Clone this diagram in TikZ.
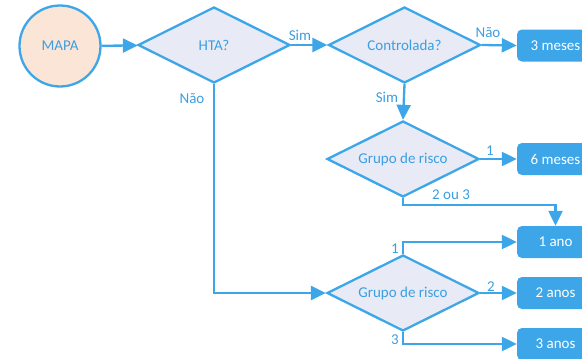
\documentclass[tikz,border=0pt]{standalone}
\usepackage{fontspec}
\setmainfont{Carlito}
\usetikzlibrary{shapes.geometric,arrows.meta}
\definecolor{lblue}{HTML}{3CA6E8}
\definecolor{tblue}{HTML}{3A9FE2}
\definecolor{dfill}{HTML}{E8EAF5}
\definecolor{cfill}{HTML}{FBE5D6}
\tikzset{
  every node/.style={font=\fontsize{15}{18}\selectfont},
  conn/.style={draw=lblue, line width=2.3pt, -{Triangle[length=15pt,width=14pt]}},
  decision/.style={diamond, draw=lblue, line width=2.3pt, fill=dfill, text=tblue,
     minimum width=152pt, minimum height=76pt, inner sep=0pt, aspect=2},
  startc/.style={circle, draw=lblue, line width=2.3pt, fill=cfill, text=tblue,
     minimum size=81pt, inner sep=0pt},
  outbox/.style={rectangle, rounded corners=5pt, fill=lblue, text=white,
     minimum width=77pt, minimum height=32pt, inner sep=0pt},
  lbl/.style={text=tblue, inner sep=0pt},
}
\begin{document}
\begin{tikzpicture}[x=1pt,y=-1pt]
\useasboundingbox (0,0) rectangle (582,359);
\clip (0,0) rectangle (582,359);
\node[startc] (mapa) at (60,46) {MAPA};
\node[decision] (hta) at (214,45) {HTA?};
\node[decision] (ctrl) at (404.5,45) {Controlada?};
\node[decision] (g1) at (403,159) {Grupo de risco};
\node[decision] (g2) at (403,293) {Grupo de risco};
\node[outbox] (m3) at (555.5,45.5) {3 meses};
\node[outbox] (m6) at (555.5,159) {6 meses};
\node[outbox] (a1) at (555.5,242) {1 ano};
\node[outbox] (a2) at (555.5,293) {2 anos};
\node[outbox] (a3) at (555.5,344) {3 anos};
\draw[conn] (mapa) -- (hta);
\draw[conn] (hta.east) -- (ctrl.west);
\draw[conn] (ctrl.east) -- (m3.west);
\draw[conn] (ctrl.south) -- (g1.north);
\draw[conn] (g1.east) -- (m6.west);
\draw[conn] (g1.south) -- ++(0,7) -| (a1.north);
\draw[conn] (hta.south) |- (g2.west);
\draw[conn] (g2.north) |- (a1.west);
\draw[conn] (g2.east) -- (a2.west);
\draw[conn] (g2.south) |- (a3.west);
\node[lbl] (l1) at (300,35) {Sim};
\node[lbl] (l2) at (192,99) {Não};
\node[lbl] (l3) at (488,33) {Não};
\node[lbl] (l4) at (387,97) {Sim};
\node[lbl] (l5) at (490,151) {1};
\node[lbl] (l6) at (451,195) {2 ou 3};
\node[lbl] (l7) at (395,249) {1};
\node[lbl] (l8) at (491,287) {2};
\node[lbl] (l9) at (395,340) {3};
\end{tikzpicture}
\end{document}
